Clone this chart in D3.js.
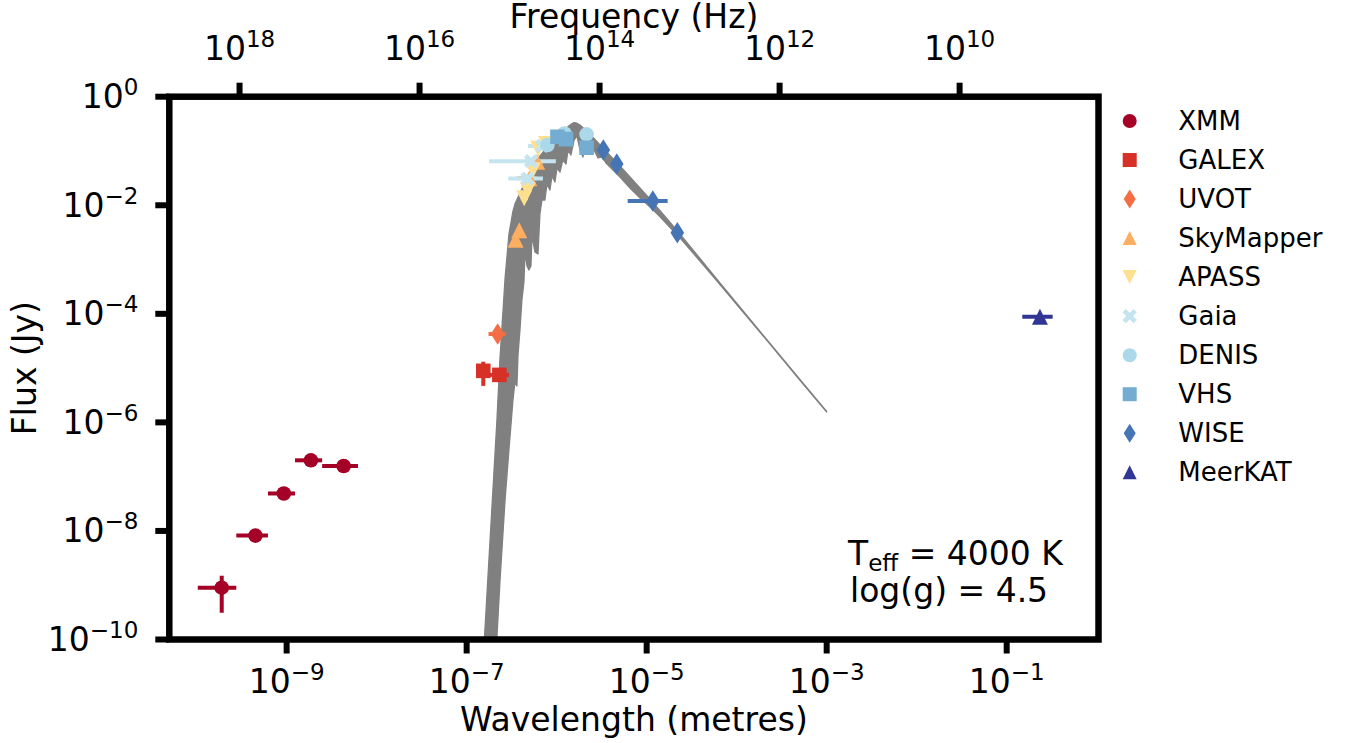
<!DOCTYPE html>
<html>
<head>
<meta charset="utf-8">
<script src="https://d3js.org/d3.v7.min.js"></script>
<style>
  body { margin: 0; background: #fff; }
  svg text { font-family: "DejaVu Sans", sans-serif; fill: #000; }
</style>
</head>
<body>
<svg id="sed" width="1351" height="743"></svg>
<script>
  // surveys, legend order
  const surveys = ["XMM", "GALEX", "UVOT", "SkyMapper", "APASS", "Gaia", "DENIS", "VHS", "WISE", "MeerKAT"]
  const surveyColors = ["#a50026", "#d73027", "#f46d43", "#fdae61", "#fee090", "#c4e5f0", "#abd9e9", "#74add1", "#4575b4", "#313695"]
  const surveyMarkers = ["circle", "square", "thin_diamond", "triangle_up", "triangle_down", "x_filled", "circle", "square", "thin_diamond", "triangle_up"]

  // photometry rows: [wavelength (m), wl low, wl high, flux (Jy), flux low, flux high]
  const xmmPhot = [
    [1.90e-10, 1.03e-10, 2.76e-10, 9.0e-10, 3.1e-10, 1.5e-9],
    [4.5e-10, 2.76e-10, 6.2e-10, 8.2e-9, 8.2e-9, 8.2e-9],
    [9.3e-10, 6.2e-10, 1.24e-9, 4.9e-8, 4.9e-8, 4.9e-8],
    [1.86e-9, 1.24e-9, 2.48e-9, 2.0e-7, 2.0e-7, 2.0e-7],
    [4.3e-9, 2.48e-9, 6.2e-9, 1.57e-7, 1.57e-7, 1.57e-7]
  ]
  const galexPhot = [
    [1.53e-7, 1.35e-7, 1.78e-7, 8.9e-6, 4.7e-6, 1.31e-5],
    [2.31e-7, 1.75e-7, 2.95e-7, 7.5e-6, 7.5e-6, 7.5e-6]
  ]
  const uvotPhot = [
    [2.21e-7, 1.75e-7, 2.70e-7, 4.25e-5, 4.25e-5, 4.25e-5]
  ]
  const skymapperPhot = [
    [3.50e-7, 3.50e-7, 3.50e-7, 2.32e-3, 2.32e-3, 2.32e-3],
    [3.84e-7, 3.6e-7, 4.1e-7, 3.46e-3, 3.46e-3, 3.46e-3],
    [4.97e-7, 3.6e-7, 6.0e-7, 3.14e-2, 3.14e-2, 3.14e-2],
    [6.08e-7, 4.6e-7, 7.0e-7, 6.35e-2, 6.35e-2, 6.35e-2]
  ]
  const apassPhot = [
    [4.36e-7, 4.0e-7, 4.8e-7, 1.35e-2, 1.35e-2, 1.35e-2],
    [4.77e-7, 4.77e-7, 4.77e-7, 1.9e-2, 1.9e-2, 1.9e-2],
    [5.45e-7, 5.45e-7, 5.45e-7, 4.4e-2, 4.4e-2, 4.4e-2],
    [6.23e-7, 6.23e-7, 6.23e-7, 0.11, 0.11, 0.11],
    [7.63e-7, 7.63e-7, 7.63e-7, 0.135, 0.135, 0.135]
  ]
  const gaiaPhot = [
    [4.75e-7, 2.9e-7, 7.05e-7, 3.1e-2, 3.1e-2, 3.1e-2],
    [5.2e-7, 1.77e-7, 9.8e-7, 6.5e-2, 6.5e-2, 6.5e-2],
    [6.9e-7, 4.8e-7, 8.5e-7, 0.124, 0.124, 0.124]
  ]
  const denisPhot = [
    [7.9e-7, 7.9e-7, 7.9e-7, 0.129, 0.129, 0.129],
    [1.22e-6, 1.22e-6, 1.22e-6, 0.21, 0.21, 0.21],
    [2.15e-6, 2.15e-6, 2.15e-6, 0.203, 0.203, 0.203]
  ]
  const vhsPhot = [
    [1.02e-6, 1.02e-6, 1.02e-6, 0.183, 0.183, 0.183],
    [1.27e-6, 1.27e-6, 1.27e-6, 0.165, 0.165, 0.165],
    [2.15e-6, 2.15e-6, 2.15e-6, 0.115, 0.115, 0.115]
  ]
  const wisePhot = [
    [3.30e-6, 3.30e-6, 3.30e-6, 0.104, 0.104, 0.104],
    [4.65e-6, 4.65e-6, 4.65e-6, 5.75e-2, 5.75e-2, 5.75e-2],
    [1.17e-5, 6.15e-6, 1.71e-5, 1.2e-2, 1.2e-2, 1.2e-2],
    [2.19e-5, 2.19e-5, 2.19e-5, 3.12e-3, 3.12e-3, 3.12e-3]
  ]
  const meerkatPhot = [
    [0.234, 0.149, 0.324, 8.85e-5, 8.85e-5, 8.85e-5]
  ]
  const photometry = [xmmPhot, galexPhot, uvotPhot, skymapperPhot, apassPhot, gaiaPhot, denisPhot, vhsPhot, wisePhot, meerkatPhot]

  // model spectrum (Teff 4000 K), upper and lower envelope of the line forest
  const modelWavelength = [1.56e-7, 2.17e-7, 2.34e-7, 2.67e-7, 2.95e-7, 3.27e-7, 3.44e-7, 3.62e-7, 3.72e-7, 3.91e-7,
    4.11e-7, 4.33e-7, 4.45e-7, 4.68e-7, 4.92e-7, 5.18e-7, 5.32e-7, 5.74e-7, 6.20e-7, 6.52e-7,
    6.87e-7, 7.41e-7, 7.80e-7, 8.43e-7, 8.87e-7, 9.57e-7, 1.01e-6, 1.09e-6, 1.17e-6, 1.27e-6,
    1.34e-6, 1.44e-6, 1.56e-6, 1.68e-6, 1.82e-6, 1.96e-6, 2.12e-6, 2.34e-6, 2.60e-6, 2.88e-6,
    3.19e-6, 3.53e-6, 3.91e-6, 5.05e-6, 6.52e-6, 8.43e-6, 1.09e-5, 1.41e-5, 1.82e-5, 2.34e-5,
    3.91e-5, 6.52e-5, 1.82e-4, 5.05e-4, 1.0e-3]
  const modelFluxUpper = [7.9e-11, 1.11e-6, 1.41e-5, 4.44e-4, 2.93e-3, 7.78e-3, 1.05e-2, 1.27e-2, 1.40e-2, 1.68e-2,
    2.00e-2, 2.36e-2, 2.57e-2, 3.05e-2, 3.61e-2, 4.24e-2, 4.58e-2, 5.75e-2, 7.06e-2, 8.09e-2,
    9.02e-2, 0.106, 0.119, 0.140, 0.153, 0.173, 0.189, 0.214, 0.237, 0.263,
    0.281, 0.309, 0.333, 0.325, 0.301, 0.269, 0.239, 0.206, 0.171, 0.142,
    0.118, 9.87e-2, 8.26e-2, 5.29e-2, 3.32e-2, 2.08e-2, 1.30e-2, 7.94e-3, 4.85e-3, 2.96e-3,
    1.045e-3, 3.70e-4, 4.72e-5, 6.17e-6, 1.60e-6]
  const modelFluxLower = [7.9e-11, 1.11e-10, 1.10e-9, 3.72e-8, 3.10e-7, 2.58e-6, 5.55e-6, 4.68e-6, 1.74e-5, 5.04e-5,
    1.80e-4, 3.86e-4, 1.38e-3, 7.60e-4, 6.41e-4, 7.60e-4, 2.72e-3, 1.38e-3, 1.26e-3, 6.90e-3,
    1.25e-2, 1.25e-2, 2.47e-2, 1.91e-2, 3.46e-2, 2.68e-2, 4.86e-2, 4.10e-2, 6.82e-2, 5.75e-2,
    0.104, 8.43e-2, 0.159, 0.189, 0.104, 7.75e-2, 0.146, 0.104, 0.104, 7.43e-2,
    7.75e-2, 6.01e-2, 5.07e-2, 3.32e-2, 2.08e-2, 1.36e-2, 9.3e-3, 6.1e-3, 3.9e-3, 2.5e-3,
    9.40e-4, 3.47e-4, 4.57e-5, 5.96e-6, 1.55e-6]

  // ticks and axis ranges
  const wavelengthTicks = [1e-9, 1e-7, 1e-5, 1e-3, 1e-1]
  const fluxTicks = [1, 1e-2, 1e-4, 1e-6, 1e-8, 1e-10]
  const frequencyTicks = [1e18, 1e16, 1e14, 1e12, 1e10]
  const wavelengthDomain = [4.97e-11, 1.047]
  const fluxDomain = [1e-10, 1]
  const lightSpeed = 2.998e8

  const svg = d3.select("#sed")
  const margin = {left: 169.3, right: 252.5, top: 96.7, bottom: 103.5}
  const width = svg.attr("width") - margin.left - margin.right
  const height = svg.attr("height") - margin.top - margin.bottom

  const x = d3.scaleLog().domain(wavelengthDomain).range([margin.left, margin.left + width])
  const y = d3.scaleLog().domain(fluxDomain).range([margin.top + height, margin.top])
  const xf = d3.scaleLog().domain(wavelengthDomain.map(l => lightSpeed / l)).range([margin.left, margin.left + width])

  svg.append("clipPath").attr("id", "plot-clip")
    .append("rect").attr("x", margin.left).attr("y", margin.top).attr("width", width).attr("height", height)

  const plot = svg.append("g").attr("clip-path", "url(#plot-clip)")

  // model spectrum
  const modelArea = d3.area()
    .x((d, i) => x(modelWavelength[i]))
    .y0((d, i) => y(modelFluxLower[i]))
    .y1((d, i) => y(modelFluxUpper[i]))
  plot.append("path")
    .datum(modelWavelength)
    .attr("d", modelArea)
    .attr("fill", "#808080")
    .attr("stroke", "#808080")
    .attr("stroke-width", 1.3)
    .attr("stroke-linejoin", "round")

  // marker shapes (pixel units, centred); plot markers a bit bigger than legend ones
  const xPlus = [[-2.4,-7.8],[2.4,-7.8],[2.4,-2.4],[7.8,-2.4],[7.8,2.4],[2.4,2.4],[2.4,7.8],[-2.4,7.8],[-2.4,2.4],[-7.8,2.4],[-7.8,-2.4],[-2.4,-2.4]]
  const xRot = xPlus.map(p => [(p[0] - p[1]) * Math.SQRT1_2, (p[0] + p[1]) * Math.SQRT1_2])
  const makeShapes = (r, tri, dh, dw) => ({
    circle: d3.symbol(d3.symbolCircle, Math.PI * r * r)(),
    square: "M" + -r + "," + -r + "H" + r + "V" + r + "H" + -r + "Z",
    thin_diamond: "M0," + -dh + "L" + dw + ",0L0," + dh + "L" + -dw + ",0Z",
    triangle_up: "M0," + -tri + "L" + tri + "," + tri + "L" + -tri + "," + tri + "Z",
    triangle_down: "M0," + tri + "L" + tri + "," + -tri + "L" + -tri + "," + -tri + "Z",
    x_filled: "M" + xRot.map(p => p.join(",")).join("L") + "Z"
  })
  const plotShapes = makeShapes(7.3, 8, 10.8, 6.8)
  const legendShapes = makeShapes(7, 7, 9.5, 6)

  // error bars first, then every marker on top
  const bars = plot.append("g")
  photometry.forEach((rows, s) => {
    rows.forEach(r => {
      if (r[1] !== r[2]) {
        bars.append("line")
          .attr("x1", x(r[1])).attr("x2", x(r[2]))
          .attr("y1", y(r[3])).attr("y2", y(r[3]))
          .attr("stroke", surveyColors[s]).attr("stroke-width", 4)
      }
      if (r[4] !== r[5]) {
        bars.append("line")
          .attr("x1", x(r[0])).attr("x2", x(r[0]))
          .attr("y1", y(r[4])).attr("y2", y(r[5]))
          .attr("stroke", surveyColors[s]).attr("stroke-width", 4)
      }
    })
  })
  const marks = plot.append("g")
  photometry.forEach((rows, s) => {
    marks.selectAll(null)
      .data(rows).enter()
      .append("path")
      .attr("d", plotShapes[surveyMarkers[s]])
      .attr("transform", d => "translate(" + x(d[0]) + "," + y(d[3]) + ")")
      .attr("fill", surveyColors[s])
  })

  // frame
  svg.append("rect")
    .attr("x", margin.left).attr("y", margin.top)
    .attr("width", width).attr("height", height)
    .attr("fill", "none").attr("stroke", "#000").attr("stroke-width", 6.5)

  // ticks
  const tickLines = svg.append("g").attr("stroke", "#000").attr("stroke-width", 6)
  wavelengthTicks.forEach(v => {
    tickLines.append("line").attr("x1", x(v)).attr("x2", x(v))
      .attr("y1", margin.top + height).attr("y2", margin.top + height + 14)
  })
  frequencyTicks.forEach(v => {
    tickLines.append("line").attr("x1", xf(v)).attr("x2", xf(v))
      .attr("y1", margin.top).attr("y2", margin.top - 14)
  })
  fluxTicks.forEach(v => {
    tickLines.append("line").attr("x1", margin.left).attr("x2", margin.left - 14)
      .attr("y1", y(v)).attr("y2", y(v))
  })

  const powerLabel = (px, py, value, anchor) => {
    const e = Math.round(Math.log10(value))
    const t = svg.append("text").attr("x", px).attr("y", py)
      .attr("text-anchor", anchor).style("font-size", "33px")
    t.append("tspan").text("10")
    t.append("tspan").attr("dy", -13).style("font-size", "23px")
      .text(e < 0 ? "\u2212" + (-e) : String(e))
  }
  wavelengthTicks.forEach(v => powerLabel(x(v), 692.7, v, "middle"))
  frequencyTicks.forEach(v => powerLabel(xf(v), 60, v, "middle"))
  fluxTicks.forEach(v => powerLabel(138.3, y(v) + 11.5, v, "end"))

  // axis titles
  svg.append("text")
    .attr("x", margin.left + width / 2).attr("y", 730.7)
    .attr("text-anchor", "middle").style("font-size", "33px")
    .text("Wavelength (metres)")
  svg.append("text")
    .attr("x", margin.left + width / 2).attr("y", 28)
    .attr("text-anchor", "middle").style("font-size", "33px")
    .text("Frequency (Hz)")
  svg.append("text")
    .attr("transform", "translate(36," + (margin.top + height / 2) + ") rotate(-90)")
    .attr("text-anchor", "middle").style("font-size", "33px")
    .text("Flux (Jy)")

  // model parameters
  const teff = svg.append("text").attr("x", 848).attr("y", 565).style("font-size", "33px")
  teff.append("tspan").text("T")
  teff.append("tspan").attr("dy", 6).style("font-size", "23px").text("eff")
  teff.append("tspan").attr("dy", -6).text(" = 4000 K")
  svg.append("text").attr("x", 850).attr("y", 601.7).style("font-size", "33px").text("log(g) = 4.5")

  // legend
  const legend = svg.append("g")
  surveys.forEach((name, i) => {
    const ly = 121 + i * 39.03
    legend.append("path")
      .attr("d", legendShapes[surveyMarkers[i]])
      .attr("transform", "translate(1129.7," + ly + ")")
      .attr("fill", surveyColors[i])
    legend.append("text")
      .attr("x", 1178.3).attr("y", ly + 9.2)
      .style("font-size", "26px")
      .text(name)
  })
</script>
</body>
</html>
